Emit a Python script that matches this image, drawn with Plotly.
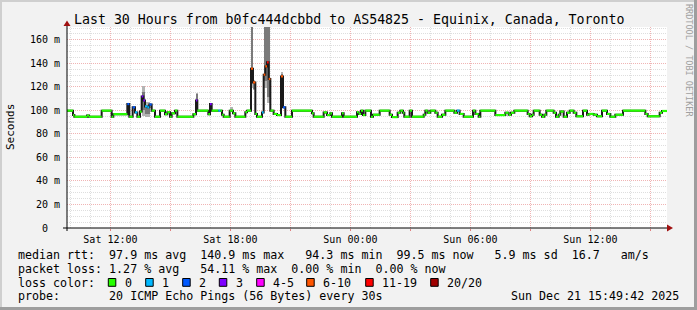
import plotly.graph_objects as go
import pandas as pd

# ---------------- data ----------------
START = pd.Timestamp("2025-12-20 09:49:42")
END = pd.Timestamp("2025-12-21 15:49:42")
TITLE = "Last 30 Hours from b0fc444dcbbd to AS54825 - Equinix, Canada, Toronto"

# median RTT as steps: minutes after window start where a new value begins
med_min = [0, 18, 22, 60, 66, 104, 134, 139, 181, 187, 197, 204, 211, 219, 224, 229, 234, 241, 247, 254,
           264, 279, 294, 301, 309, 314, 324, 331, 379, 387, 391, 424, 429, 434, 454, 460, 465, 470, 488, 498,
           505, 535, 540, 552, 558, 565, 570, 585, 590, 595, 600, 605, 610, 620, 630, 642, 648, 655, 675, 735,
           740, 770, 780, 790, 795, 825, 830, 870, 875, 882, 888, 895, 912, 918, 938, 968, 975, 992, 1000, 1008,
           1012, 1028, 1035, 1070, 1075, 1082, 1090, 1105, 1112, 1125, 1135, 1162, 1170, 1178, 1190, 1218, 1225, 1235, 1240, 1285,
           1315, 1325, 1332, 1342, 1382, 1388, 1395, 1400, 1418, 1425, 1432, 1438, 1460, 1467, 1475, 1480, 1490, 1500, 1508, 1520,
           1528, 1548, 1560, 1565, 1580, 1590, 1605, 1620, 1630, 1645, 1668, 1735, 1742, 1778, 1785]
med_ms = [99.8, 96.0, 94.6, 95.6, 94.6, 99.8, 94.6, 96.8, 105.4, 94.6, 102.6, 98.3, 94.6, 99.0, 111.9, 108.5, 103.4, 102.6, 105.0, 99.8,
          94.6, 99.8, 96.8, 98.5, 94.6, 97.5, 99.8, 94.6, 96.8, 108.5, 99.8, 96.8, 105.4, 99.8, 99.8, 99.8, 96.3, 94.6, 99.8, 97.5,
          94.6, 98.5, 99.8, 135.5, 123.8, 97.0, 94.6, 98.3, 130.4, 137.4, 140.9, 126.7, 99.8, 97.0, 96.0, 128.9, 102.6, 94.6, 99.8, 97.5,
          94.6, 98.3, 96.0, 97.5, 94.6, 97.5, 94.6, 98.5, 97.0, 99.8, 96.0, 99.8, 94.6, 96.3, 99.8, 96.3, 94.3, 98.0, 99.8, 98.0,
          94.6, 99.8, 94.6, 96.3, 99.8, 98.0, 99.8, 98.0, 94.6, 96.3, 99.8, 98.0, 99.8, 97.0, 94.6, 99.8, 97.0, 94.6, 99.8, 96.0,
          98.0, 96.3, 98.0, 99.8, 97.0, 95.0, 96.3, 99.8, 96.3, 94.6, 96.3, 99.8, 98.0, 94.6, 96.3, 99.0, 94.6, 98.0, 99.8, 98.0,
          95.0, 99.8, 96.3, 97.0, 96.3, 95.0, 99.8, 97.0, 94.6, 96.3, 99.8, 97.0, 95.0, 98.0, 99.5]
med_loss = [0, 0, 0, 0, 0, 0, 0, 0, 2, 0, 2, 1, 0, 0, 3, 3, 1, 1, 2, 0,
            0, 0, 0, 0, 0, 0, 0, 0, 0, 3, 0, 0, 3, 0, 1, 0, 0, 0, 0, 0,
            0, 0, 0, 7, 7, 0, 0, 1, 7, 7, 12, 7, 0, 0, 0, 7, 2, 0, 0, 0,
            0, 0, 0, 0, 0, 0, 0, 0, 0, 0, 0, 0, 0, 0, 0, 0, 0, 0, 0, 0,
            0, 0, 0, 0, 0, 0, 0, 0, 0, 0, 0, 0, 1, 0, 0, 0, 0, 0, 0, 0,
            0, 0, 0, 0, 0, 0, 0, 0, 0, 0, 0, 0, 0, 0, 0, 0, 0, 0, 0, 0,
            0, 0, 0, 0, 0, 0, 0, 0, 0, 0, 0, 0, 0, 0, 0]

# smoke (spread of the 20 pings) around the spikes
smoke_start = [224, 234, 387, 488, 552, 558, 590, 600, 642]
smoke_end = [234, 249, 391, 498, 558, 565, 600, 610, 648]
smoke_min = [95, 94, 100, 99.8, 119, 117, 119, 106, 120]
smoke_q1 = [100, 97, 104, 99.8, 124, 118, 125, 111, 122]
smoke_q3 = [116, 104, 114, 99.8, 171, 125, 171, 171, 131]
smoke_max = [121, 107, 115, 102.5, 171, 126, 171, 171, 133]

loss_keys = [0, 1, 2, 3, 4, 6, 11, 20]
loss_labels = ["0", "1", "2", "3", "4-5", "6-10", "11-19", "20/20"]

rtt_avg, rtt_max, rtt_min, rtt_now, rtt_sd, rtt_ams = 97.9, 140.9, 94.3, 99.5, 5.9, 16.7
loss_avg, loss_max, loss_min, loss_now = 1.27, 54.11, 0.00, 0.00
PROBE = "20 ICMP Echo Pings (56 Bytes) every 30s"

y_ticks = [0, 20, 40, 60, 80, 100, 120, 140, 160]

# ---------------- style ----------------
loss_colors = ['#26ff00', '#00b8ff', '#0059ff', '#7e00ff', '#ff00ff', '#ff5500', '#ff0000', '#a00000']
MONO = "DejaVu Sans Mono"
W, H = 697, 310
L, R, T, B = 67, 667, 27, 228
YMAX = (B - T) / 1.176


def px(x):
    return (x - L) / (R - L)


def py(y):
    return (B - y) / (B - T)


def tm(m):
    return START + pd.Timedelta(minutes=m)


def nb(s):
    return s.replace(" ", "\u00a0")


fig = go.Figure()

# smoke
for lo, hi, col in [(smoke_min, smoke_max, '#b4b4b4'), (smoke_q1, smoke_q3, '#7a7a7a')]:
    fig.add_trace(go.Bar(
        x=[tm((a + b) / 2) for a, b in zip(smoke_start, smoke_end)],
        y=[h - l for l, h in zip(lo, hi)], base=lo,
        width=[(b - a) * 60000 for a, b in zip(smoke_start, smoke_end)],
        marker=dict(color=col, line=dict(width=0)), hoverinfo='skip'))

# median step line (dark transitions)
fig.add_trace(go.Scatter(
    x=[tm(m) for m in med_min] + [tm((END - START).total_seconds() / 60)],
    y=med_ms + [med_ms[-1]], mode='lines', line=dict(color='#1a1a1a', width=2, shape='hv'),
    hoverinfo='skip'))

# coloured horizontal pieces by loss
ends = med_min[1:] + [(END - START).total_seconds() / 60]


def bucket(v):
    k = 0
    for i, key in enumerate(loss_keys):
        if v >= key:
            k = i
    return k


for bi, col in enumerate(loss_colors):
    xs, ys = [], []
    for s, e, v, l in zip(med_min, ends, med_ms, med_loss):
        if bucket(l) == bi:
            xs += [tm(s), tm(e), None]
            ys += [v, v, None]
    if xs:
        fig.add_trace(go.Scatter(x=xs, y=ys, mode='lines', line=dict(color=col, width=2.2),
                                 hoverinfo='skip', connectgaps=False))

# axes
major_x = [pd.Timestamp("2025-12-20 12:00") + pd.Timedelta(hours=3 * i) for i in range(10)]
major_txt = [t.strftime("%a %H:%M") if t.hour % 6 == 0 else "" for t in major_x]

fig.update_xaxes(type='date', range=[START, END], tickvals=major_x, ticktext=major_txt,
                 showgrid=True, gridcolor='#f0b4b4', griddash='1px,1px', gridwidth=1,
                 ticks='outside', ticklen=2, tickcolor='#e08080',
                 tickfont=dict(family=MONO, size=10, color='black'),
                 minor=dict(dtick=3600000, tick0='2025-12-20 00:00', showgrid=True,
                            gridcolor='#dedede', griddash='1px,1px', ticks=''),
                 showline=False, zeroline=False, fixedrange=True)
fig.update_yaxes(range=[0, YMAX], tickvals=y_ticks,
                 ticktext=[nb("0  ") if v == 0 else f"{v} m" for v in y_ticks],
                 showgrid=True, gridcolor='#f0b4b4', griddash='1px,1px', gridwidth=1,
                 ticks='', ticklabelstandoff=6,
                 tickfont=dict(family=MONO, size=10, color='black'),
                 minor=dict(dtick=5, tick0=0, showgrid=True, gridcolor='#dedede', griddash='1px,1px'),
                 showline=False, zeroline=False, fixedrange=True)

shapes = []
# frame shading
shapes.append(dict(type='rect', xref='paper', yref='paper', x0=px(0), x1=px(W), y0=py(0), y1=py(2),
                   fillcolor='#cfcfcf', line=dict(width=0), layer='below'))
shapes.append(dict(type='rect', xref='paper', yref='paper', x0=px(0), x1=px(2), y0=py(0), y1=py(H),
                   fillcolor='#cfcfcf', line=dict(width=0), layer='below'))
shapes.append(dict(type='rect', xref='paper', yref='paper', x0=px(W - 3), x1=px(W), y0=py(0), y1=py(H),
                   fillcolor='#9e9e9e', line=dict(width=0), layer='below'))
shapes.append(dict(type='rect', xref='paper', yref='paper', x0=px(0), x1=px(W), y0=py(H - 3), y1=py(H),
                   fillcolor='#9e9e9e', line=dict(width=0), layer='below'))
# axis lines
shapes.append(dict(type='line', xref='paper', yref='paper', x0=px(63), x1=px(668), y0=py(228), y1=py(228),
                   line=dict(color='black', width=1)))
shapes.append(dict(type='line', xref='paper', yref='paper', x0=px(67), x1=px(67), y0=py(231), y1=py(25),
                   line=dict(color='black', width=1)))
shapes.append(dict(type='path', xref='paper', yref='paper',
                   path=f"M {px(667)},{py(224.5)} L {px(673)},{py(228)} L {px(667)},{py(231.5)} Z",
                   fillcolor='#a01010', line=dict(width=0)))
shapes.append(dict(type='path', xref='paper', yref='paper',
                   path=f"M {px(63.5)},{py(26)} L {px(67)},{py(20.5)} L {px(70.5)},{py(26)} Z",
                   fillcolor='#a01010', line=dict(width=0)))

ann = []


def text(x, y, s, size=11.65, anchor='left', color='black', angle=0):
    ann.append(dict(x=px(x), y=py(y), xref='paper', yref='paper', text=nb(s), showarrow=False,
                    xanchor=anchor, yanchor='middle', textangle=angle,
                    font=dict(family=MONO, size=size, color=color)))


text(72, 19.5, TITLE, size=13.25)
text(11, 127, "Seconds", size=11, anchor='center', angle=-90)
text(689, 60, "RRDTOOL / TOBI OETIKER", size=8.5, anchor='center', color='#a0a0a0', angle=90)

line1 = (f"median rtt:  {rtt_avg:.1f} ms avg  {rtt_max:.1f} ms max   {rtt_min:.1f} ms min  "
         f"{rtt_now:.1f} ms now   {rtt_sd:.1f} ms sd  {rtt_ams:.1f}   am/s")
line2 = (f"packet loss: {loss_avg:.2f} % avg   {loss_max:.2f} % max  {loss_min:.2f} % min  "
         f"{loss_now:.2f} % now")
text(16, 254.5, line1)
text(16, 268.5, line2)
text(16, 282.5, "loss color:")
sq_x = [108.3, 145.7, 182.7, 219.3, 256.7, 306.7, 365.7, 430.7]
for sx, lab, col in zip(sq_x, loss_labels, loss_colors):
    shapes.append(dict(type='rect', xref='paper', yref='paper', x0=px(sx), x1=px(sx + 7.5),
                       y0=py(278.5), y1=py(286.3), fillcolor=col, line=dict(color='black', width=1)))
    text(sx + 14.5, 282.5, lab)
text(16, 296.3, "probe:       " + PROBE)
text(680.5, 296.3, END.strftime("%a %b %d %H:%M:%S %Y"), anchor='right')

fig.update_layout(width=W, height=H, margin=dict(l=L, r=W - R, t=T, b=H - B),
                  paper_bgcolor='#f2f2f2', plot_bgcolor='white', showlegend=False,
                  barmode='overlay', bargap=0, shapes=shapes, annotations=ann)

fig.write_html("out.html")
